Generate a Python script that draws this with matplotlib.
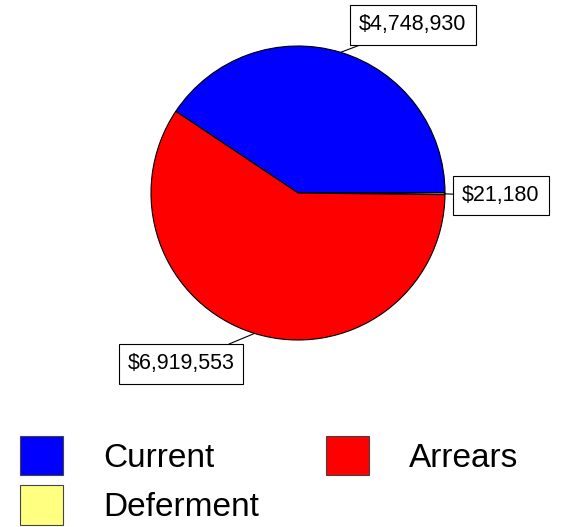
import matplotlib
matplotlib.use('Agg')
import matplotlib.pyplot as plt
from matplotlib.patches import Patch
import numpy as np

plt.rcParams['font.family'] = ['Liberation Sans', 'DejaVu Sans']

# pie data, drawn clockwise from the start angle
categories = ['Current', 'Deferment', 'Arrears']
values = [4748930, 21180, 6919553]
colors = ['#0000FF', '#FFFF80', '#FF0000']
value_labels = ['$4,748,930', '$21,180', '$6,919,553']
label_pos = [(0.782, 1.143), (1.381, -0.02), (-0.796, -1.163)]

W, H = 571, 527
fig = plt.figure(figsize=(W / 100, H / 100), dpi=100)
cx, cy, r = 298, 193, 147
ax = fig.add_axes([(cx - r) / W, (H - cy - r) / H, 2 * r / W, 2 * r / H])

start = 360 * values[0] / sum(values)
wedges, _ = ax.pie(values, colors=colors, startangle=start, counterclock=False,
                   wedgeprops=dict(edgecolor='black', linewidth=0.8))
ax.set_xlim(-1, 1)
ax.set_ylim(-1, 1)
ax.set_aspect('equal')
ax.axis('off')

for w, txt, pos in zip(wedges, value_labels, label_pos):
    mid = np.deg2rad((w.theta1 + w.theta2) / 2)
    ax.annotate(txt, xy=(np.cos(mid), np.sin(mid)), xytext=pos,
                ha='center', va='center', fontsize=15.5,
                bbox=dict(boxstyle='square,pad=0.42', fc='white', ec='black', lw=0.8),
                arrowprops=dict(arrowstyle='-', color='black', lw=0.8,
                                shrinkA=0, shrinkB=0),
                annotation_clip=False)

handles = [Patch(facecolor=c, edgecolor='#444444', linewidth=0.8) for c in colors]
fig.legend(handles, categories, loc='upper left', ncol=2,
           bbox_to_anchor=(20 / W, 1 - 436 / H), borderaxespad=0, borderpad=0,
           frameon=False, fontsize=24, handlelength=1.3, handleheight=1.44,
           handletextpad=1.2, columnspacing=2.0, labelspacing=0.3)

fig.savefig('out.png', dpi=100)
